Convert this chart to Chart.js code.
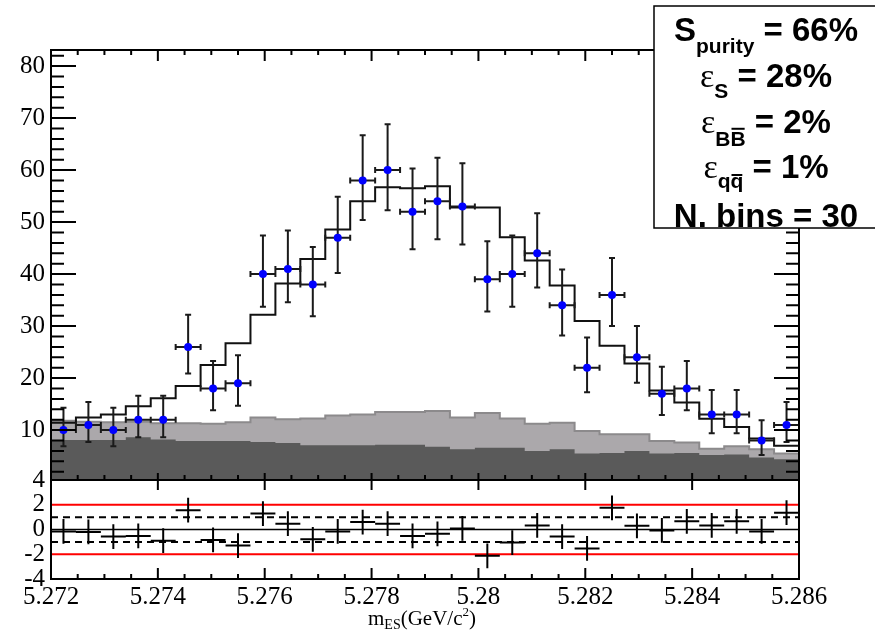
<!DOCTYPE html>
<html>
<head>
<meta charset="utf-8">
<script src="https://cdn.jsdelivr.net/npm/chart.js@4.4.1/dist/chart.umd.min.js"></script>
<style>
  body { margin: 0; background: #fff; }
  #wrap { width: 875px; height: 630px; position: relative; }
</style>
</head>
<body>
<div id="wrap"><canvas id="mesChart"></canvas></div>
<script>
// mES fit: data points, total fit, stacked backgrounds and pulls

const binLow = 5.272, binHigh = 5.286, nBins = 30;

const counts  = [10, 11, 10, 12, 12, 26, 18, 19, 40, 41, 38, 47, 58, 60, 52,
                 54, 53, 39, 40, 44, 34, 22, 36, 24, 17, 18, 13, 13, 8, 11];
const errLow  = [3.1, 3.3, 3.1, 3.4, 3.4, 5.1, 4.2, 4.3, 6.3, 6.4, 6.1, 6.8, 7.6, 7.7, 7.2,
                 7.3, 7.3, 6.2, 6.3, 6.6, 5.8, 4.7, 6.0, 4.9, 4.1, 4.2, 3.6, 3.6, 2.8, 3.3];
const errHigh = [4.3, 4.4, 4.3, 4.6, 4.6, 6.2, 5.3, 5.4, 7.4, 7.4, 7.2, 7.9, 8.7, 8.8, 8.3,
                 8.4, 8.3, 7.3, 7.4, 7.7, 6.9, 5.8, 7.1, 6.0, 5.2, 5.3, 4.7, 4.7, 3.9, 4.4];
const fitTotal = [11.4, 12.4, 13.0, 14.6, 16.1, 18.5, 22.5, 26.7, 32.2, 38.2, 42.9, 48.6, 54.0, 56.7, 56.5,
                  56.9, 52.8, 52.8, 47.1, 42.6, 37.8, 31.0, 26.2, 22.8, 17.6, 15.3, 12.2, 10.6, 8.4, 7.0];
const bkgTotal = [11.8, 11.6, 11.5, 11.6, 11.3, 11.3, 11.2, 11.5, 12.4, 12.1, 12.25, 12.8, 13.0, 13.5, 13.5,
                  13.65, 12.4, 13.3, 12.25, 11.2, 11.4, 9.8, 9.2, 9.2, 7.9, 7.6, 6.4, 6.9, 6.3, 5.5];
const bkgLower = [8.1, 8.1, 8.1, 8.6, 8.2, 7.9, 7.9, 7.9, 7.7, 7.5, 7.1, 7.1, 7.1, 7.2, 7.2,
                  6.8, 6.3, 6.6, 6.6, 6.0, 6.3, 5.5, 5.6, 6.0, 5.5, 5.6, 5.2, 5.3, 4.75, 4.4];
const pulls = [-0.16, -0.2, -0.57, -0.52, -0.9, 1.56, -0.84, -1.3, 1.29, 0.47, -0.79, -0.16, 0.6, 0.47, -0.52,
               -0.35, 0.09, -2.13, -1.06, 0.33, -0.57, -1.53, 1.75, 0.3, -0.08, 0.66, 0.33, 0.66, -0.16, 1.36];

const yTicks = [10, 20, 30, 40, 50, 60, 70, 80];
const pullTicks = [-4, -2, 0, 2, 4];
const pullTickLabels = ['-4', '-2', '0', '2', '4'];
const xTicks = [5.272, 5.274, 5.276, 5.278, 5.28, 5.282, 5.284, 5.286];
const xTickLabels = ['5.272', '5.274', '5.276', '5.278', '5.28', '5.282', '5.284', '5.286'];

const binW = (binHigh - binLow) / nBins;
const edges = Array.from({length: nBins + 1}, (_, i) => binLow + i * binW);
const centers = edges.slice(0, nBins).map(e => e + binW / 2);

function stepData(vals) {
  return edges.map((e, i) => ({x: e, y: vals[Math.min(i, nBins - 1)]}));
}
function hLine(v) {
  return [{x: binLow, y: v}, {x: binHigh, y: v}];
}

const serif = "'Liberation Serif', 'Times New Roman', serif";
const sansB = "bold 33px 'Liberation Sans', Arial, sans-serif";
const sansBs = "bold 21px 'Liberation Sans', Arial, sans-serif";
const eps = "34px 'Liberation Serif', serif";

const legendRows = [
  {base: 41, parts: [{t: 'S', f: sansB}, {t: 'purity', f: sansBs, dy: 12}, {t: ' = 66%', f: sansB}]},
  {base: 87, parts: [{t: 'ε', f: eps}, {t: 'S', f: sansBs, dy: 11}, {t: ' = 28%', f: sansB}]},
  {base: 133, parts: [{t: 'ε', f: eps}, {t: 'B', f: sansBs, dy: 13}, {t: 'B', f: sansBs, dy: 13, bar: 0.82}, {t: ' = 2%', f: sansB}]},
  {base: 178, parts: [{t: 'ε', f: eps}, {t: 'q', f: sansBs, dy: 10}, {t: 'q', f: sansBs, dy: 10, bar: 0.62}, {t: ' = 1%', f: sansB}]},
  {base: 227, parts: [{t: 'N. bins = 30', f: sansB}]}
];

function drawRich(ctx, cx, base, parts) {
  let total = 0;
  parts.forEach(p => { ctx.font = p.f; p.w = ctx.measureText(p.t).width; total += p.w; });
  let xx = cx - total / 2;
  parts.forEach(p => {
    ctx.font = p.f;
    const yy = base + (p.dy || 0);
    ctx.fillText(p.t, xx, yy);
    if (p.bar) {
      const size = parseFloat(p.f.match(/(\d+)px/)[1]);
      ctx.beginPath();
      ctx.lineWidth = 2;
      ctx.moveTo(xx + 1, yy - size * p.bar);
      ctx.lineTo(xx + p.w - 1, yy - size * p.bar);
      ctx.stroke();
    }
    xx += p.w;
  });
}

const rootDecor = {
  id: 'rootDecor',
  beforeDatasetDraw(chart, args) {
    const {ctx} = chart;
    const {x, y, yp} = chart.scales;
    if (args.index === 0) {
      ctx.save();
      ctx.strokeStyle = '#1a1a1a';
      ctx.lineWidth = 2;
      ctx.beginPath();
      counts.forEach((n, i) => {
        const cx = x.getPixelForValue(centers[i]);
        const x0 = x.getPixelForValue(edges[i]), x1 = x.getPixelForValue(edges[i + 1]);
        const py = y.getPixelForValue(n);
        const yt = y.getPixelForValue(n + errHigh[i]), yb = y.getPixelForValue(n - errLow[i]);
        ctx.moveTo(x0, py); ctx.lineTo(x1, py);
        ctx.moveTo(x0, py - 3); ctx.lineTo(x0, py + 3);
        ctx.moveTo(x1, py - 3); ctx.lineTo(x1, py + 3);
        ctx.moveTo(cx, yt); ctx.lineTo(cx, yb);
        ctx.moveTo(cx - 3, yt); ctx.lineTo(cx + 3, yt);
        ctx.moveTo(cx - 3, yb); ctx.lineTo(cx + 3, yb);
      });
      ctx.stroke();
      ctx.restore();
    }
    if (args.index === 4) {
      ctx.save();
      ctx.strokeStyle = '#000';
      ctx.lineWidth = 2;
      ctx.beginPath();
      pulls.forEach((p, i) => {
        const cx = x.getPixelForValue(centers[i]);
        const py = yp.getPixelForValue(p);
        ctx.moveTo(x.getPixelForValue(edges[i]), py);
        ctx.lineTo(x.getPixelForValue(edges[i + 1]), py);
        ctx.moveTo(cx, yp.getPixelForValue(p + 1));
        ctx.lineTo(cx, yp.getPixelForValue(p - 1));
      });
      ctx.stroke();
      ctx.restore();
    }
  },
  afterDraw(chart) {
    const {ctx} = chart;
    const {x, y, yp} = chart.scales;
    const L = x.left, R = x.right;
    ctx.save();
    ctx.strokeStyle = '#000';
    ctx.lineWidth = 2;
    // frames
    ctx.strokeRect(L, y.top, R - L, y.bottom - y.top);
    ctx.strokeRect(L, yp.top, R - L, yp.bottom - yp.top);
    ctx.beginPath();
    // x ticks (major every 0.002, minor every 0.0005)
    for (let k = 0; k <= 28; k++) {
      const px = x.getPixelForValue(binLow + k * 0.0005);
      const major = k % 4 === 0;
      ctx.moveTo(px, y.top); ctx.lineTo(px, y.top + (major ? 11 : 5));
      ctx.moveTo(px, y.bottom - (major ? 7 : 5)); ctx.lineTo(px, y.bottom + (major ? 10 : 0));
      ctx.moveTo(px, yp.bottom); ctx.lineTo(px, yp.bottom - (major ? 11 : 5));
    }
    // y ticks, main pad
    for (let v = 2; v <= 82; v += 2) {
      const py = y.getPixelForValue(v);
      const len = v % 10 === 0 ? 25 : 13;
      ctx.moveTo(L, py); ctx.lineTo(L + len, py);
      ctx.moveTo(R, py); ctx.lineTo(R - len, py);
    }
    ctx.stroke();

    // x axis title m_ES(GeV/c^2)
    ctx.fillStyle = '#000';
    ctx.textBaseline = 'alphabetic';
    const tparts = [
      {t: 'm', f: '21px ' + serif},
      {t: 'ES', f: '14px ' + serif, dy: 4},
      {t: '(GeV/c', f: '21px ' + serif},
      {t: '2', f: '13px ' + serif, dy: -9},
      {t: ')', f: '21px ' + serif}
    ];
    drawRich(ctx, 422, 625, tparts);

    // statistics box
    ctx.fillStyle = '#fff';
    ctx.fillRect(654, 6, 240, 222);
    ctx.lineWidth = 1.5;
    ctx.strokeRect(654, 6, 240, 222);
    ctx.fillStyle = '#000';
    ctx.strokeStyle = '#000';
    legendRows.forEach(r => drawRich(ctx, 766, r.base, r.parts));
    ctx.restore();
  }
};

const tickFont = {family: serif, size: 25};

new Chart(document.getElementById('mesChart'), {
  type: 'line',
  data: {
    datasets: [
      { // 0 data
        data: centers.map((c, i) => ({x: c, y: counts[i]})),
        showLine: false, pointRadius: 4, pointBackgroundColor: '#0000ff',
        pointBorderWidth: 0, yAxisID: 'y', order: 0
      },
      { // 1 total fit
        data: stepData(fitTotal), stepped: true, borderColor: '#111', borderWidth: 2,
        pointRadius: 0, fill: false, yAxisID: 'y', order: 1
      },
      { // 2 lower background
        data: stepData(bkgLower), stepped: true, borderWidth: 0, borderColor: 'rgba(0,0,0,0)',
        backgroundColor: '#5a5a5a', pointRadius: 0, fill: 'start', yAxisID: 'y', order: 2
      },
      { // 3 total background
        data: stepData(bkgTotal), stepped: true, borderWidth: 2, borderColor: '#8c8a8c',
        backgroundColor: '#aba8ab', pointRadius: 0, fill: 'start', yAxisID: 'y', order: 3
      },
      { // 4 pulls
        data: centers.map((c, i) => ({x: c, y: pulls[i]})),
        showLine: false, pointRadius: 0, yAxisID: 'yp', order: 4
      },
      {data: hLine(2), borderColor: '#ff0000', borderWidth: 2, pointRadius: 0, yAxisID: 'yp', order: 5},
      {data: hLine(-2), borderColor: '#ff0000', borderWidth: 2, pointRadius: 0, yAxisID: 'yp', order: 6},
      {data: hLine(1), borderColor: '#000', borderWidth: 2, borderDash: [7, 5], pointRadius: 0, yAxisID: 'yp', order: 7},
      {data: hLine(-1), borderColor: '#000', borderWidth: 2, borderDash: [7, 5], pointRadius: 0, yAxisID: 'yp', order: 8},
      {data: hLine(0), borderColor: '#000', borderWidth: 1.5, pointRadius: 0, yAxisID: 'yp', order: 9}
    ]
  },
  options: {
    responsive: true,
    maintainAspectRatio: false,
    animation: false,
    devicePixelRatio: 1,
    layout: {padding: {top: 50, right: 76, left: 0, bottom: 0}},
    plugins: {legend: {display: false}, tooltip: {enabled: false}},
    scales: {
      // left boxes are stacked in reverse order, so the pull pad comes first
      yp: {
        type: 'linear', position: 'left', stack: 'pads', stackWeight: 99,
        min: -4, max: 4,
        grid: {display: false, drawTicks: false}, border: {display: false},
        ticks: {
          font: tickFont, color: '#000', padding: 6, autoSkip: false,
          callback: v => pullTickLabels[pullTicks.indexOf(v)]
        },
        afterBuildTicks: s => { s.ticks = pullTicks.map(v => ({value: v})); },
        afterFit: s => { s.width = 51; }
      },
      y: {
        type: 'linear', position: 'left', stack: 'pads', stackWeight: 430,
        min: 0.4, max: 83.1,
        grid: {display: false, drawTicks: false}, border: {display: false},
        ticks: {font: tickFont, color: '#000', padding: 6, autoSkip: false},
        afterBuildTicks: s => { s.ticks = yTicks.map(v => ({value: v})); },
        afterFit: s => { s.width = 51; }
      },
      x: {
        type: 'linear', position: 'bottom', min: binLow, max: binHigh,
        grid: {display: false, drawTicks: false}, border: {display: false},
        ticks: {
          font: tickFont, color: '#000', padding: 3, autoSkip: false, maxRotation: 0,
          callback: (v, i) => xTickLabels[i]
        },
        afterBuildTicks: s => { s.ticks = xTicks.map(v => ({value: v})); },
        afterFit: s => { s.height = 51; }
      }
    }
  },
  plugins: [rootDecor]
});
</script>
</body>
</html>
